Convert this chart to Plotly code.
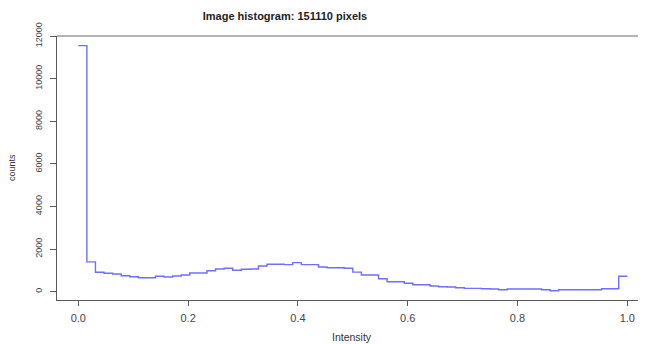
import numpy as np
import plotly.graph_objects as go

# Histogram counts for 64 equal-width intensity bins on [0, 1]
counts = [
    11550, 1400, 909, 864, 831, 751, 704, 657,
    657, 723, 690, 737, 784, 878, 878, 986,
    1066, 1097, 1004, 1050, 1066, 1207, 1285, 1285,
    1268, 1362, 1268, 1268, 1159, 1127, 1127, 1097,
    920, 784, 784, 610, 470, 470, 394, 329,
    329, 268, 235, 220, 188, 157, 157, 141,
    125, 94, 125, 125, 125, 125, 94, 47,
    94, 94, 94, 94, 94, 141, 141, 723,
]
x_ticks = [0.0, 0.2, 0.4, 0.6, 0.8, 1.0]
x_tick_labels = ["0.0", "0.2", "0.4", "0.6", "0.8", "1.0"]
y_ticks = [0, 2000, 4000, 6000, 8000, 10000, 12000]
y_tick_labels = ["0", "2000", "4000", "6000", "8000", "10000", "12000"]
title_text = "Image histogram: 151110 pixels"
x_title = "Intensity"
y_title = "counts"

nbins = len(counts)
edges = np.linspace(0.0, 1.0, nbins + 1)
step_x = list(edges)
step_y = list(counts) + [counts[-1]]

# page body adds an 8px offset; compensate so the figure fills the window
OFF = 8
W, H = 646 - OFF, 344 - OFF
ml, mr, mt, mb = 57 - OFF, 0, 36 - OFF, 44
pw, ph = W - ml - mr, H - mt - mb

fig = go.Figure()
fig.add_trace(go.Scatter(
    x=step_x, y=step_y, mode="lines", line_shape="hv",
    line=dict(color="#6e6eff", width=1.4), hoverinfo="skip", showlegend=False,
))

axis_col = "#5a5a5a"
fig.update_layout(
    width=W, height=H,
    margin=dict(l=ml, r=mr, t=mt, b=mb, autoexpand=False),
    paper_bgcolor="white", plot_bgcolor="white",
    font=dict(family="Liberation Sans, Arial, sans-serif", color="#333"),
    title=dict(text="<b>" + title_text + "</b>", xref="container", yref="container",
               x=(285 - OFF) / W, y=1 - (16 - OFF) / H, xanchor="center", yanchor="middle",
               font=dict(size=11, color="#222")),
    xaxis=dict(range=[-21.3 / 549, (646 - 78.3) / 549], tickvals=x_ticks, ticktext=x_tick_labels,
               showgrid=False, zeroline=False, showline=True, linecolor=axis_col, linewidth=1,
               ticks="outside", ticklen=5, tickcolor=axis_col, tickwidth=1,
               tickfont=dict(size=11, color="#444"), ticklabelstandoff=3),
    yaxis=dict(range=[-390, 12000], tickvals=y_ticks, ticktext=y_tick_labels,
               showgrid=False, zeroline=False, showline=True, linecolor=axis_col, linewidth=1,
               ticks="outside", ticklen=6, tickcolor=axis_col, tickwidth=1, tickangle=-90,
               tickfont=dict(size=9, color="#444"), ticklabelstandoff=4),
    shapes=[dict(type="line", xref="paper", yref="paper", x0=0, x1=1, y0=1, y1=1,
                 line=dict(color="#b4b4b4", width=2), layer="below")],
    annotations=[
        dict(text=x_title, xref="paper", yref="paper", x=(352 - 57) / pw, y=(300 - 337) / ph,
             xanchor="center", yanchor="middle", showarrow=False, font=dict(size=10.5, color="#333")),
        dict(text=y_title, xref="paper", yref="paper", x=(12 - 57) / pw, y=0.5, textangle=-90,
             xanchor="center", yanchor="middle", showarrow=False, font=dict(size=9, color="#333")),
    ],
)

fig.write_html("out.html")
